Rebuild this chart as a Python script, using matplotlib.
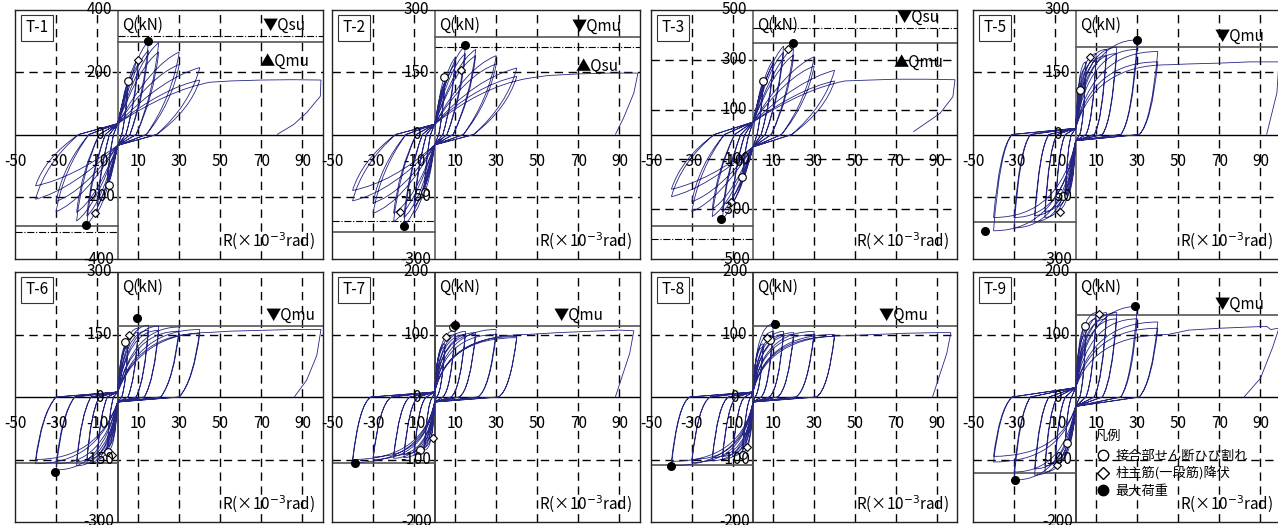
import matplotlib.pyplot as plt
from matplotlib.path import Path
from matplotlib.patches import PathPatch
from matplotlib.lines import Line2D

plt.rcParams['font.family'] = ['Noto Sans CJK JP', 'DejaVu Sans']

# ---- data ----
names = ["T-1", "T-2", "T-3", "T-5", "T-6", "T-7", "T-8", "T-9"]
y_max = [400, 300, 500, 300, 300, 200, 200, 200]
y_ticks = [
    [400, 200, 0, -200, -400],
    [300, 150, 0, -150, -300],
    [500, 300, 100, -100, -300, -500],
    [300, 150, 0, -150, -300],
    [300, 150, 0, -150, -300],
    [200, 100, 0, -100, -200],
    [200, 100, 0, -100, -200],
    [200, 100, 0, -100, -200],
]
x_labels = [-50, -30, -10, 10, 30, 50, 70, 90]

# cycle amplitudes R (x10^-3 rad)
amps = [5, 10, 15, 20, 30, 40]
# peak loads Q (kN), first and second cycle of each amplitude
pos_1 = [
    [170, 245, 300, 295, 265, 215],
    [140, 185, 215, 205, 190, 160],
    [215, 300, 355, 350, 312, 258],
    [175, 195, 205, 210, 228, 200],
    [130, 165, 172, 170, 168, 162],
    [85, 107, 105, 103, 108, 97],
    [85, 117, 105, 103, 105, 100],
    [113, 135, 135, 135, 145, 120],
]
pos_2 = [
    [150, 225, 270, 265, 225, 175],
    [125, 170, 195, 190, 170, 140],
    [195, 280, 330, 320, 275, 215],
    [160, 180, 190, 195, 205, 175],
    [120, 155, 160, 160, 158, 152],
    [80, 100, 100, 100, 100, 95],
    [80, 105, 100, 100, 100, 97],
    [100, 125, 125, 125, 125, 110],
]
neg_1 = [
    [-165, -250, -290, -278, -248, -208],
    [-140, -190, -220, -210, -190, -160],
    [-170, -272, -340, -330, -310, -250],
    [-150, -187, -200, -210, -225, -232],
    [-130, -150, -160, -165, -175, -160],
    [-85, -93, -97, -98, -100, -105],
    [-88, -95, -100, -102, -105, -110],
    [-74, -108, -120, -125, -133, -104],
]
neg_2 = [
    [-145, -230, -262, -250, -215, -165],
    [-125, -175, -200, -190, -165, -135],
    [-150, -250, -310, -300, -270, -220],
    [-140, -175, -185, -195, -200, -200],
    [-120, -140, -150, -155, -160, -150],
    [-80, -88, -92, -94, -96, -100],
    [-82, -90, -95, -97, -100, -103],
    [-70, -100, -110, -115, -120, -95],
]
# drift at zero load after unloading from each amplitude
residual = [
    [2, 4, 6, 9, 14, 19],
    [2, 4, 6, 9, 14, 19],
    [2, 4, 6, 9, 14, 19],
    [2, 5, 9, 13, 22, 31],
    [2, 5, 9, 13, 21, 30],
    [1, 4, 8, 12, 21, 31],
    [1, 4, 8, 12, 21, 31],
    [2, 5, 9, 13, 22, 31],
]
# load where the reloading branch crosses R = 0
pinch = [35, 25, 50, 15, 12, 8, 8, 15]
# final monotonic push and last unloading
env_r = [
    [45, 55, 70, 85, 99],
    [45, 55, 70, 85, 99],
    [45, 55, 70, 85, 99],
    [45, 55, 70, 85, 99],
    [45, 55, 70, 85, 99],
    [45, 60, 75, 90, 97],
    [45, 60, 75, 90, 97],
    [45, 55, 70, 85, 93, 95, 99],
]
env_q = [
    [168, 172, 175, 176, 175],
    [135, 142, 146, 148, 148],
    [215, 218, 222, 222, 220],
    [168, 170, 172, 175, 175],
    [155, 158, 160, 162, 162],
    [100, 103, 105, 107, 106],
    [98, 100, 102, 103, 103],
    [100, 107, 110, 112, 113, 108, 110],
]
unl_r = [
    [98.7, 92, 85.7, 77.6],
    [97, 92, 88],
    [98, 91.7, 78.6],
    [98, 93],
    [97, 92, 86],
    [95, 91, 88],
    [95, 91, 88],
    [96, 90, 82],
]
unl_q = [
    [123, 70, 32, 0],
    [100, 40, 0],
    [152, 85, 11],
    [100, 0],
    [100, 40, 0],
    [70, 30, 0],
    [70, 30, 0],
    [80, 30, 0],
]
# design strengths: solid = Qmu, dash-dot = Qsu
qmu_pos = [296, 235, 366, 211, 170, 113.6, 113, 130.7]
qmu_neg = [-294, -235, -366, -211, -158, -105.6, -109, -121.6]
qsu_pos = [315, 211, 426, None, None, None, None, None]
qsu_neg = [-312, -208, -420, None, None, None, None, None]
top_label = ["▼Qsu", "▼Qmu", "▼Qsu", "▼Qmu", "▼Qmu", "▼Qmu", "▼Qmu", "▼Qmu"]
low_label = ["▲Qmu", "▲Qsu", "▲Qmu", None, None, None, None, None]
# event markers (R, Q)
crack_pts = [
    [(5, 171), (-4.4, -163)],
    [(4.5, 139), (-4.7, -139)],
    [(5, 215), (-5.5, -169)],
    [(2, 107), (-6, -148)],
    [(3.6, 132), (-4.7, -132)],
    [(8.8, 112), (-7.2, -84)],
    [(8.3, 91), (-5, -93)],
    [(4.7, 113), (-4.4, -74)],
]
yield_pts = [
    [(9.9, 240), (-10.9, -251)],
    [(13, 155), (-17, -187)],
    [(17, 342), (-10.6, -272)],
    [(7, 187), (-7.6, -187)],
    [(5.5, 150), (-3, -140)],
    [(5.5, 96), (-1, -65)],
    [(7, 95), (-3, -80)],
    [(11.5, 133), (-9.3, -108)],
]
max_pts = [
    [(15, 299), (-15.3, -291)],
    [(14.8, 216), (-15, -220)],
    [(19.6, 366), (-15.5, -340)],
    [(29.9, 228), (-44, -232)],
    [(9.4, 190), (-30.5, -180)],
    [(9.9, 116), (-38.8, -105)],
    [(10.8, 117), (-40, -110)],
    [(28.9, 145), (-29.6, -133)],
]
legend_labels = ["接合部せん断ひび割れ", "柱主筋(一段筋)降伏", "最大荷重"]

# ---- layout (pixels of the 1278 x 525 picture) ----
W, H = 1278, 525
col_left = [15, 332, 651, 973]
col_width = [308, 308, 306, 308]
row_top = [10, 272]
row_height = [249, 250]
knee_x = [0.55, 0.5, 0.55, 0.2, 0.25, 0.15, 0.15, 0.2]
knee_y = [0.85, 0.85, 0.85, 1.0, 1.0, 1.0, 1.0, 1.0]
# how far the unloading branch stays stiff before bending (0 = straight)
unl_bend = [0.45, 0.45, 0.45, 0.15, 0.25, 0.1, 0.1, 0.2]
label_x = [81, 79, 81, 80, 84, 70, 74, 80]

navy = "#262684"
dash = (0, (6, 4))
fs = 11


def hysteresis(i):
    kx, ky, pk, ub = knee_x[i], knee_y[i], pinch[i], unl_bend[i]
    v = [(0, 0)]
    c = [Path.MOVETO]
    pos = [0, 0]

    def to_peak(r, q, from_origin=False):
        s = 1 if q > 0 else -1
        if not from_origin:
            v.append((0, s * pk))
            c.append(Path.LINETO)
        v.extend([(kx * r, ky * q), (r, q)])
        c.extend([Path.CURVE3, Path.CURVE3])
        pos[:] = [r, q]

    def unload(r):
        pr, pq = pos
        v.extend([(pr - (pr - r) * (1 - ub) * 0.4, pq * ub), (r, 0)])
        c.extend([Path.CURVE3, Path.CURVE3])
        pos[:] = [r, 0]

    first = True
    for k, a in enumerate(amps):
        for rep, (qp, qn) in enumerate(((pos_1[i][k], neg_1[i][k]), (pos_2[i][k], neg_2[i][k]))):
            if not first:
                unload(-residual[i][k - 1] if rep == 0 else -residual[i][k])
            to_peak(a, qp, from_origin=first)
            first = False
            unload(residual[i][k])
            to_peak(-a, qn)
    unload(-residual[i][-1])
    to_peak(env_r[i][0], env_q[i][0])
    for r, q in zip(env_r[i][1:], env_q[i][1:]):
        v.append((r, q))
        c.append(Path.LINETO)
    for r, q in zip(unl_r[i], unl_q[i]):
        v.append((r, q))
        c.append(Path.LINETO)
    return Path(v, c)


fig = plt.figure(figsize=(W / 100, H / 100), dpi=100)

for i, name in enumerate(names):
    row, col = divmod(i, 4)
    ax = fig.add_axes([col_left[col] / W, 1 - (row_top[row] + row_height[row]) / H,
                       col_width[col] / W, row_height[row] / H])
    ym = y_max[i]
    ax.set_xlim(-50, 100)
    ax.set_ylim(-ym, ym)
    ax.set_xticks([])
    ax.set_yticks([])
    for sp in ax.spines.values():
        sp.set_linewidth(1.0)
        sp.set_color("#222222")

    # grid
    for x in x_labels[1:]:
        ax.axvline(x, color="k", lw=1.0, ls=dash, zorder=1)
    for y in y_ticks[i]:
        if y != 0 and abs(y) != ym:
            ax.axhline(y, color="k", lw=1.0, ls=dash, zorder=1)
    ax.axhline(0, color="k", lw=1.0, zorder=1)
    ax.axvline(0, color="#777777" if row == 0 else "#444444", lw=1.4, zorder=1)

    # design strength lines
    ax.plot([0, 100], [qmu_pos[i]] * 2, color="#555555", lw=1.2, zorder=2)
    ax.plot([-50, 0], [qmu_neg[i]] * 2, color="#555555", lw=1.2, zorder=2)
    if qsu_pos[i] is not None:
        ax.plot([0, 100], [qsu_pos[i]] * 2, color="k", lw=0.8, ls="-.", zorder=2)
        ax.plot([-50, 0], [qsu_neg[i]] * 2, color="k", lw=0.8, ls="-.", zorder=2)
    top_line = qsu_pos[i] if top_label[i] == "▼Qsu" else qmu_pos[i]
    ax.annotate(top_label[i], (label_x[i], top_line), xytext=(0, 11),
                textcoords="offset pixels", ha="center", va="center", fontsize=fs)
    if low_label[i]:
        low_line = qmu_pos[i] if low_label[i] == "▲Qmu" else qsu_pos[i]
        ax.annotate(low_label[i], (label_x[i], low_line), xytext=(0, -19),
                    textcoords="offset pixels", ha="center", va="center", fontsize=fs)

    # hysteresis loops
    ax.add_patch(PathPatch(hysteresis(i), fill=False, edgecolor=navy, lw=0.6, zorder=3))

    # event markers
    for r, q in crack_pts[i]:
        ax.plot(r, q, "o", ms=5.5, mfc="white", mec="k", mew=0.8, zorder=5)
    for r, q in yield_pts[i]:
        ax.plot(r, q, "D", ms=4.5, mfc="white", mec="k", mew=0.8, zorder=5)
    for r, q in max_pts[i]:
        ax.plot(r, q, "o", ms=5.5, mfc="k", mec="k", zorder=5)

    # tick labels
    for x in x_labels:
        ax.annotate(str(x), (x, 0), xytext=(0, -27), textcoords="offset pixels",
                    ha="center", va="center", fontsize=fs, annotation_clip=False, zorder=6)
    for y in y_ticks[i]:
        ax.text(-9, y, str(y), ha="center", va="center", fontsize=fs, clip_on=False, zorder=6)

    ax.annotate("Q(kN)", (0, ym), xytext=(4, -15), textcoords="offset pixels",
                ha="left", va="center", fontsize=fs)
    ax.annotate("R(×10$^{-3}$rad)", (1, 0), xycoords="axes fraction", xytext=(-8, 18),
                textcoords="offset pixels", ha="right", va="center", fontsize=fs)
    ax.annotate(name, (0, 1), xycoords="axes fraction", xytext=(22, -18),
                textcoords="offset pixels", ha="center", va="center", fontsize=fs,
                bbox=dict(boxstyle="square,pad=0.3", fc="white", ec="#333333", lw=0.8), zorder=7)

    if name == "T-9":
        handles = [
            Line2D([], [], ls="", marker="o", ms=7.5, mfc="white", mec="k"),
            Line2D([], [], ls="", marker="D", ms=6, mfc="white", mec="k"),
            Line2D([], [], ls="", marker="o", ms=7.5, mfc="k", mec="k"),
        ]
        leg = ax.legend(handles, legend_labels, title="凡例", loc="upper left",
                        bbox_to_anchor=(0.37, 0.40), frameon=False, fontsize=9.5,
                        title_fontsize=9.5, handletextpad=0.35, labelspacing=0.3,
                        borderpad=0.1, alignment="left", handlelength=1.2)
        leg._legend_box.sep = 5

fig.savefig("out.png", dpi=100)
